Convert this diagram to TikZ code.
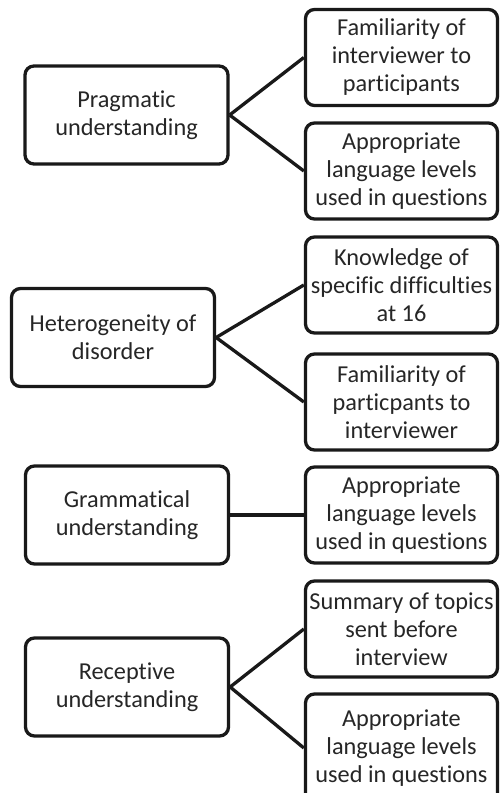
\documentclass[tikz,border=0pt]{standalone}
\usepackage{fontspec}
\setmainfont{Carlito}[Ligatures={NoCommon}]
\begin{document}
\begin{tikzpicture}[x=1pt,y=-1pt,
  box/.style={draw=black!90, line width=3.3pt, rounded corners=9pt,
    align=center, inner sep=0pt, text=black!85,
    font=\fontsize{24.3}{28}\selectfont},
  leftbox/.style={box, minimum width=203pt, minimum height=98pt},
  rightbox/.style={box, minimum width=192pt, minimum height=96pt},
  link/.style={draw=black!90, line width=3.3pt}]
\useasboundingbox (0,0) rectangle (501,793);
\clip (0,0) rectangle (501,793);
\fill[white] (0,0) rectangle (501,793);

% left column
\node[leftbox] (prag) at (126.5,115) {Pragmatic\\understanding};
\node[leftbox] (hetero) at (113,337.5) {Heterogeneity of\\disorder};
\node[leftbox] (gram) at (127,515) {Grammatical\\understanding};
\node[leftbox] (recep) at (127,687) {Receptive\\understanding};

% right column
\node[rightbox] (r1) at (401.5,57.5) {Familiarity of\\interviewer to\\participants};
\node[rightbox] (r2) at (401.5,171) {Appropriate\\language levels\\used in questions};
\node[rightbox] (r3) at (401.5,285) {Knowledge of\\specific difficulties\\at 16};
\node[rightbox] (r4) at (401.5,402) {Familiarity of\\particpants to\\interviewer};
\node[rightbox] (r5) at (401.5,515) {Appropriate\\language levels\\used in questions};
\node[rightbox] (r6) at (401.5,629) {Summary of topics\\sent before\\interview};
% the last box runs past the lower edge of the page
\node[rightbox, minimum height=108pt] (r7) at (401.5,748) {Appropriate\\language levels\\used in questions};

% connectors
\draw[link] (prag.east) -- (r1.west);
\draw[link] (prag.east) -- (r2.west);
\draw[link] (hetero.east) -- (r3.west);
\draw[link] (hetero.east) -- (r4.west);
\draw[link] (gram.east) -- (r5.west);
\draw[link] (recep.east) -- (r6.west);
\draw[link] (recep.east) -- (r7.west);
\end{tikzpicture}
\end{document}
